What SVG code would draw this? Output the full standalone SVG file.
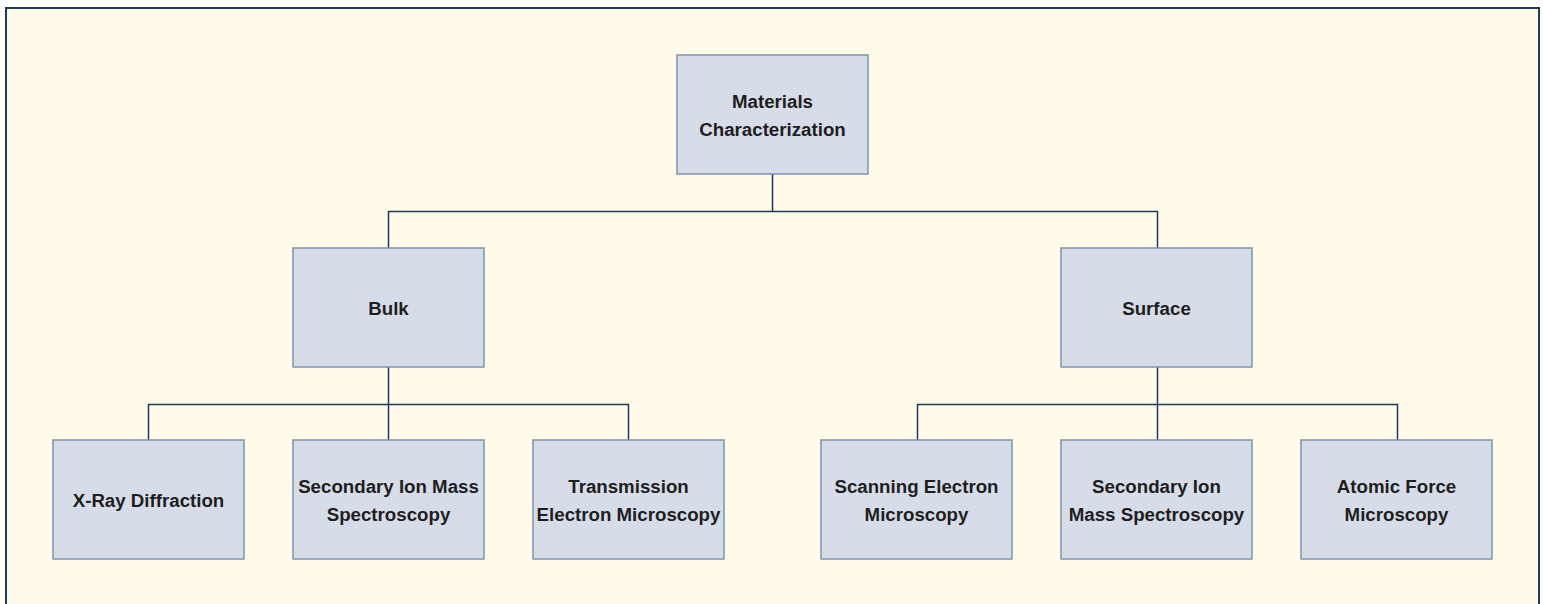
<svg xmlns="http://www.w3.org/2000/svg" width="1543" height="604" viewBox="0 0 1543 604">
<style>
.bg{fill:#fffbe8;stroke:#1f3a5f;stroke-width:2}
.box{fill:#d6dce8;stroke:#7f93b3;stroke-width:1.5}
.t{font-family:"Liberation Sans",Arial,sans-serif;font-size:18.7px;font-weight:bold;fill:#1e1e1e;text-anchor:middle;dominant-baseline:central}
.c{fill:none;stroke:#1f3a5f;stroke-width:1.5}
</style>
<rect class="bg" x="6" y="8" width="1533" height="610"/>
<g id="connectors">
<path class="c" d="M772.5 174V211.5H388.5V248M772.5 211.5H1157.5V248"/>
<path class="c" d="M388.5 367V404.5H148.5V440M388.5 404.5V440M388.5 404.5H628.5V440"/>
<path class="c" d="M1157.5 367V404.5H917.5V440M1157.5 404.5V440M1157.5 404.5H1397.5V440"/>
</g>
<g id="root"><rect class="box" x="677" y="55" width="191" height="119"/><text class="t" x="772.5" y="101">Materials</text><text class="t" x="772.5" y="129">Characterization</text></g>
<g id="bulk"><rect class="box" x="293" y="248" width="191" height="119"/><text class="t" x="388.5" y="308">Bulk</text></g>
<g id="surface"><rect class="box" x="1061" y="248" width="191" height="119"/><text class="t" x="1156.5" y="308">Surface</text></g>
<g id="xrd"><rect class="box" x="53" y="440" width="191" height="119"/><text class="t" x="148.5" y="500">X-Ray Diffraction</text></g>
<g id="sims-bulk"><rect class="box" x="293" y="440" width="191" height="119"/><text class="t" x="388.5" y="486">Secondary Ion Mass</text><text class="t" x="388.5" y="514">Spectroscopy</text></g>
<g id="tem"><rect class="box" x="533" y="440" width="191" height="119"/><text class="t" x="628.5" y="486">Transmission</text><text class="t" x="628.5" y="514">Electron Microscopy</text></g>
<g id="sem"><rect class="box" x="821" y="440" width="191" height="119"/><text class="t" x="916.5" y="486">Scanning Electron</text><text class="t" x="916.5" y="514">Microscopy</text></g>
<g id="sims-surface"><rect class="box" x="1061" y="440" width="191" height="119"/><text class="t" x="1156.5" y="486">Secondary Ion</text><text class="t" x="1156.5" y="514">Mass Spectroscopy</text></g>
<g id="afm"><rect class="box" x="1301" y="440" width="191" height="119"/><text class="t" x="1396.5" y="486">Atomic Force</text><text class="t" x="1396.5" y="514">Microscopy</text></g>
</svg>
